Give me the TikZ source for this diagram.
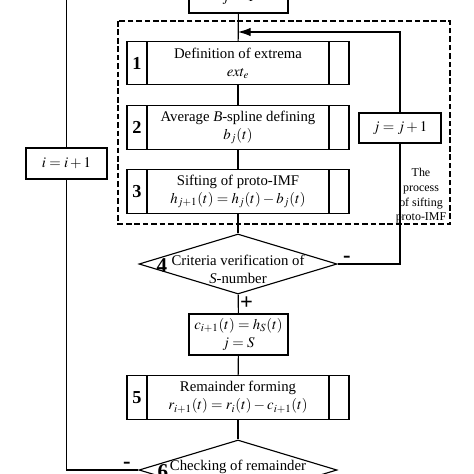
\documentclass[tikz,border=0pt]{standalone}
\usepackage{mathptmx}
\usepackage[no-math]{fontspec}
\setmainfont{Liberation Serif}
\usetikzlibrary{shapes.geometric,arrows.meta}

\tikzset{
  box/.style={draw, align=center, inner sep=1pt},
  stage/.style={box, minimum width=5.55cm, minimum height=1.08cm,
    path picture={
      \draw ([xshift=0.5cm]path picture bounding box.north west) -- ([xshift=0.5cm]path picture bounding box.south west);
      \draw ([xshift=-0.5cm]path picture bounding box.north east) -- ([xshift=-0.5cm]path picture bounding box.south east);
    }},
  decision/.style={draw, diamond, minimum width=4.95cm, minimum height=1.5cm, inner sep=0pt},
  num/.style={font=\fontsize{13}{15}\selectfont\bfseries},
  sign/.style={font=\fontsize{16}{18}\selectfont\bfseries, inner sep=1pt}
}

\begin{document}
\begin{tikzpicture}[x=0.025cm, y=-0.025cm, line width=0.8pt, font=\fontsize{10.5}{12.8}\selectfont]
    \useasboundingbox (0,0) rectangle (474,474);
    \clip (0,0) rectangle (474,474);

    % sifting loop frame
    \draw[dash pattern=on 4pt off 2pt] (118,21) rectangle (450,224);
    \node[font=\fontsize{8.5}{10.4}\selectfont, align=center, inner sep=0pt] (sift) at (421,196) {The\\ process\\ of sifting\\ proto-IMF};

    \node[box, minimum width=2.475cm, minimum height=0.75cm] (jone) at (238.5,-2) {$j=1$};
    \node[stage] (s1) at (238,63) {Definition of extrema\\ $ext_e$};
    \node[stage] (s2) at (238,127.5) {Average \textit{B}-spline defining\\ $b_j(t)$};
    \node[stage] (s3) at (238,191.5) {Sifting of proto-IMF\\ $h_{j+1}(t)=h_j(t)-b_j(t)$};
    \node[decision] (d4) at (238,264) {};
    \node[align=center, inner sep=0pt] (d4text) at (238,269) {Criteria verification of\\ \textit{S}-number};
    \node[box, minimum width=2.475cm, minimum height=1.025cm] (cnew) at (238.5,334.5) {$c_{i+1}(t)=h_S(t)$\\ $j=S$};
    \node[stage] (s5) at (238,397.5) {Remainder forming\\ $r_{i+1}(t)=r_i(t)-c_{i+1}(t)$};
    \node[decision] (d6) at (238,470) {};
    \node[inner sep=0pt] (d6text) at (238,467) {Checking of remainder};

    \node[box, minimum width=2.025cm, minimum height=0.775cm] (iinc) at (66.5,163.5) {$i=i+1$};
    \node[box, minimum width=2.05cm, minimum height=0.75cm] (jinc) at (400,128) {$j=j+1$};

    % step numbers
    \node[num] (n1) at (137,63) {1};
    \node[num] (n2) at (137,127.5) {2};
    \node[num] (n3) at (137,191.5) {3};
    \node[num, font=\fontsize{15}{17}\selectfont\bfseries] (n4) at (162,266) {4};
    \node[num] (n5) at (137,397.5) {5};
    \node[num, font=\fontsize{15}{17}\selectfont\bfseries] (n6) at (163,472) {6};

    \coordinate (back) at (238,32);
    \coordinate (itop) at (66.5,-20);

    \draw (jone) -- (s1);
    \draw (s1) -- (s2);
    \draw (s2) -- (s3);
    \draw (s3) -- (d4);
    \draw (d4) -- node[sign, right, pos=0.45] {+} (cnew);
    \draw (cnew) -- (s5);
    \draw (s5) -- (d6);

    \draw (d4.east) -- node[sign, above, pos=0.15] {-} (d4.east -| jinc) -- (jinc);
    \draw[-{Latex[length=9pt, width=6pt]}] (jinc.north) |- (back);

    \draw (d6.west) -- node[sign, above, pos=0.16] {-} (d6.west -| iinc) -- (iinc);
    \draw (iinc) -- (itop);
\end{tikzpicture}
\end{document}
